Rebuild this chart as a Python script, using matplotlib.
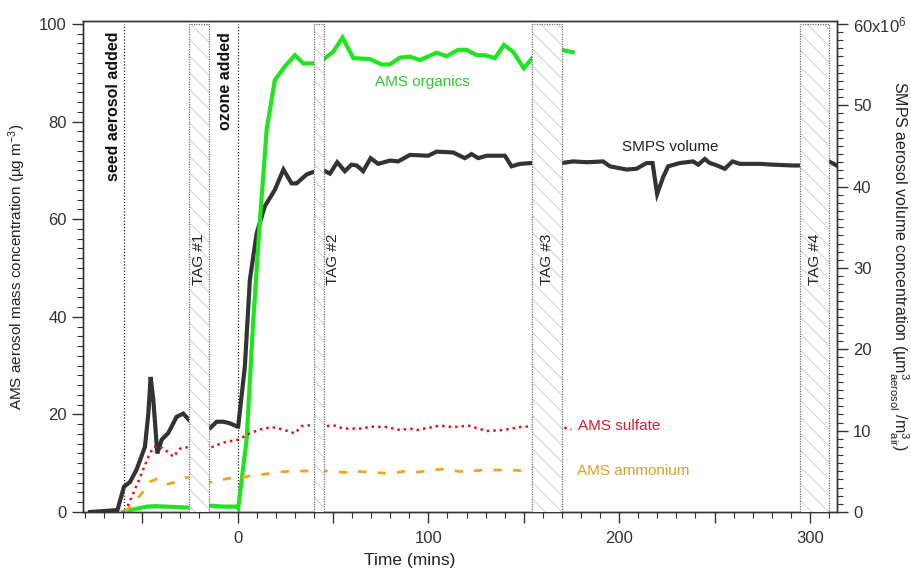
import matplotlib
matplotlib.use("Agg")
import matplotlib.pyplot as plt
from matplotlib.patches import Rectangle
from matplotlib.ticker import MultipleLocator, FuncFormatter

plt.rcParams['font.family'] = ['Liberation Sans', 'DejaVu Sans']
plt.rcParams['mathtext.fontset'] = 'custom'
plt.rcParams['mathtext.rm'] = 'Liberation Sans'
plt.rcParams['mathtext.it'] = 'Liberation Sans:italic'
plt.rcParams['hatch.linewidth'] = 0.6

# ---- SMPS aerosol volume (right axis, 10^6 um^3/m^3) ----
smps_t = [-77.4, -65.2, -63.0, -59.6, -56.4, -53.0, -48.6, -46.8, -45.6, -44.2,
          -42.1, -39.8, -36.4, -34.6, -32.0, -28.5, -25.4, -20.0, -14.5, -11.0,
          -7.5, -4.0, -0.2, 0.3, 3.8, 6.4, 10.0, 14.3, 19.5, 24.0,
          28.3, 30.9, 36.2, 39.6, 45.0, 48.4, 52.2, 56.2, 59.7, 62.4,
          65.8, 69.7, 73.7, 79.8, 84.2, 90.3, 99.9, 104.3, 113.0, 119.1,
          122.6, 126.1, 130.5, 140.1, 143.6, 148.0, 154.1, 162.0, 169.8, 175.9,
          183.0, 191.6, 195.1, 203.9, 209.1, 214.4, 217.5, 219.9, 223.1, 225.7,
          231.8, 238.8, 241.4, 244.9, 247.5, 250.2, 255.4, 259.4, 263.3, 273.7,
          280.7, 291.2, 294.7, 302.0, 310.0, 314.0]
smps_vol = [0.0, 0.2, 0.25, 3.1, 3.7, 5.2, 8.0, 12.1, 16.6, 13.8,
            7.2, 8.9, 9.7, 10.5, 11.7, 12.1, 11.3, 10.7, 10.3, 11.1,
            11.1, 10.9, 10.5, 10.5, 17.9, 28.5, 34.3, 37.6, 39.6, 42.1,
            40.4, 40.4, 41.5, 41.8, 42.0, 41.6, 43.0, 41.9, 42.7, 42.6,
            41.9, 43.5, 42.8, 43.2, 43.1, 43.9, 43.8, 44.3, 44.2, 43.5,
            44.0, 43.5, 43.8, 43.8, 42.5, 42.8, 42.9, 42.9, 42.9, 43.1,
            43.0, 43.1, 42.5, 42.1, 42.2, 42.9, 42.9, 39.1, 41.2, 42.5,
            42.9, 43.1, 42.7, 43.4, 42.9, 42.7, 42.2, 43.1, 42.8, 42.8,
            42.7, 42.6, 42.6, 42.8, 43.1, 42.6]

# ---- AMS organics (left axis, ug/m3) ----
org_t = [-60.0, -56.4, -47.7, -43.3, -37.2, -25.4, -20.0, -14.5, -7.0, -0.2,
         0.3, 4.7, 8.2, 11.7, 15.2, 19.5, 24.8, 30.0, 34.4, 39.6,
         45.2, 50.1, 55.0, 60.6, 69.3, 75.5, 79.8, 85.1, 90.3, 95.5,
         104.3, 109.5, 115.6, 120.0, 125.3, 129.6, 134.9, 139.6, 144.4, 150.0,
         154.6, 162.0, 169.8, 175.6]
org_val = [0.0, 0.4, 1.1, 1.2, 1.1, 0.9, 1.0, 1.3, 1.1, 1.1,
           0.8, 14.8, 39.3, 59.8, 78.3, 88.5, 91.3, 93.6, 91.9, 91.9,
           92.8, 94.3, 97.2, 93.0, 92.8, 91.7, 91.7, 93.1, 93.3, 92.6,
           94.1, 93.4, 94.7, 94.7, 93.6, 93.6, 93.0, 95.7, 94.3, 90.9,
           93.1, 94.5, 94.7, 94.2]

# ---- AMS sulfate ----
so4_t = [-59.0, -54.7, -50.3, -46.8, -44.2, -40.7, -36.9, -33.7, -30.2, -25.9,
         -20.0, -13.6, -9.5, -5.8, 0.3, 6.4, 11.7, 17.8, 23.9, 30.0,
         33.5, 38.8, 46.6, 51.0, 55.3, 65.8, 69.3, 78.1, 85.1, 90.3,
         93.8, 100.8, 106.0, 113.0, 120.9, 130.5, 139.2, 148.0, 154.9, 162.0,
         169.8, 175.0]
so4_val = [0.0, 3.8, 7.9, 11.3, 13.3, 13.4, 12.4, 11.3, 13.0, 13.3,
           13.3, 13.3, 13.9, 14.4, 14.8, 16.1, 16.9, 17.4, 16.9, 16.1,
           17.6, 17.8, 17.6, 17.7, 17.1, 17.1, 17.5, 17.4, 16.8, 17.1,
           16.8, 17.3, 17.7, 17.4, 17.7, 16.6, 16.8, 17.4, 17.6, 17.5,
           17.4, 16.9]

# ---- AMS ammonium ----
nh4_t = [-59.0, -50.3, -46.0, -41.6, -36.9, -32.0, -26.7, -20.0, -13.6, -4.9,
         0.3, 6.4, 15.2, 22.2, 29.1, 37.9, 46.6, 56.2, 60.6, 71.1,
         79.8, 88.6, 92.9, 98.2, 107.8, 116.5, 130.5, 144.4, 154.1, 163.0,
         172.4]
nh4_val = [0.0, 3.8, 6.2, 6.9, 5.7, 6.2, 7.1, 6.6, 6.1, 6.9,
           6.9, 7.4, 7.8, 8.2, 8.4, 8.4, 8.4, 8.1, 8.4, 8.1,
           7.9, 8.4, 8.1, 8.4, 8.8, 8.3, 8.6, 8.6, 8.3, 8.4,
           8.4]

# ---- sampling periods (TAG) and events ----
tag_labels = ['TAG #1', 'TAG #2', 'TAG #3', 'TAG #4']
tag_start = [-25.3, 40.0, 154.5, 294.7]
tag_end = [-14.9, 45.3, 170.0, 310.0]
tag_label_x = [-20.2, 50.0, 162.1, 302.6]
event_labels = ['seed aerosol added', 'ozone added']
event_t = [-59.6, 0.0]
event_label_x = [-65.3, -6.1]

fig = plt.figure(figsize=(9.12, 5.71), dpi=100)
ax = fig.add_axes([0.0907, 0.1033, 0.8271, 0.8599])
ax2 = ax.twinx()
ax.set_zorder(ax2.get_zorder() + 1)
ax.patch.set_visible(False)

ink = '#333333'

ax.plot(org_t, org_val, color='#1ee61e', lw=3.0, zorder=2, solid_joinstyle='miter')
ax.plot(so4_t, so4_val, color='#dd1515', lw=1.8, ls=(0, (1, 1.6)), zorder=2)
ax.plot(nh4_t, nh4_val, color='#f2a51c', lw=2.0, ls=(0, (3, 4)), zorder=2)
ax2.plot(smps_t, smps_vol, color='#333333', lw=3.0, zorder=2, solid_joinstyle='miter')

# event markers
for x0, lab, lx in zip(event_t, event_labels, event_label_x):
    ax.plot([x0, x0], [0, 100], color='#222222', lw=0.9, ls=(0, (1, 1.5)), zorder=1)
    ax.text(lx, 98.4, lab, rotation=90, ha='center', va='top',
            fontsize=11.5, fontweight='bold', color='#111111', zorder=5)

# TAG sampling periods: white hatched box over the traces, dotted outline
for s, e, lab, lx in zip(tag_start, tag_end, tag_labels, tag_label_x):
    ax.add_patch(Rectangle((s, 0), e - s, 100, facecolor='white',
                           edgecolor='#c8c8c8', lw=0, hatch='\\\\', zorder=3))
    ax.add_patch(Rectangle((s, 0), e - s, 100, facecolor='none',
                           edgecolor='#707070', lw=0.9, ls=(0, (1, 1)), zorder=3.5))
    ax.text(lx, 51.7, lab, rotation=90, ha='center', va='center',
            fontsize=11, color='#222222', zorder=5)

# series labels
ax.text(72, 88.1, 'AMS organics', color='#33c433', fontsize=11, va='center', ha='left')
ax.text(201.5, 74.8, 'SMPS volume', color='#222222', fontsize=11, va='center', ha='left')
ax.text(178.4, 17.6, 'AMS sulfate', color='#cc2030', fontsize=11, va='center', ha='left')
ax.text(177.8, 8.4, 'AMS ammonium', color='#d9a030', fontsize=11, va='center', ha='left')

# axes limits and ticks
ax.set_xlim(-81.2, 314.2)
ax.set_ylim(0, 100.6)
ax2.set_ylim(0, 60.36)

ax.xaxis.set_major_locator(MultipleLocator(50))
ax.xaxis.set_minor_locator(MultipleLocator(10))
ax.xaxis.set_major_formatter(FuncFormatter(lambda v, p: f'{int(round(v))}' if round(v) % 100 == 0 else ''))
ax.yaxis.set_major_locator(MultipleLocator(20))
ax.yaxis.set_minor_locator(MultipleLocator(2))
ax2.yaxis.set_major_locator(MultipleLocator(10))
ax2.yaxis.set_minor_locator(MultipleLocator(1))
ax2.yaxis.set_major_formatter(FuncFormatter(
    lambda v, p: r'60x10$^{6}$' if round(v) == 60 else f'{int(round(v))}'))

for a in (ax, ax2):
    for sp in a.spines.values():
        sp.set_color(ink)
        sp.set_linewidth(1.0)
    a.tick_params(which='major', length=8, width=1.0, color=ink, labelsize=12,
                  labelcolor='#333333', direction='out')
    a.tick_params(which='minor', length=4, width=0.8, color=ink, direction='out')
ax.tick_params(axis='x', which='major', pad=6)

ax.set_xlabel('Time (mins)', fontsize=12.5, color='#222222', va='center')
ax.xaxis.set_label_coords(0.434, -0.098)
ax.set_ylabel('AMS aerosol mass concentration (µg m$^{-3}$)', fontsize=11,
              color='#222222', labelpad=8)
ax2.set_ylabel('SMPS aerosol volume concentration (µm$^{3}_{\\rm aerosol}$ /m$^{3}_{\\rm air}$)',
               fontsize=11.5, color='#222222', rotation=270, va='center', ha='center')
ax2.yaxis.set_label_coords(1.081, 0.5)

fig.savefig('out.png', dpi=100)
